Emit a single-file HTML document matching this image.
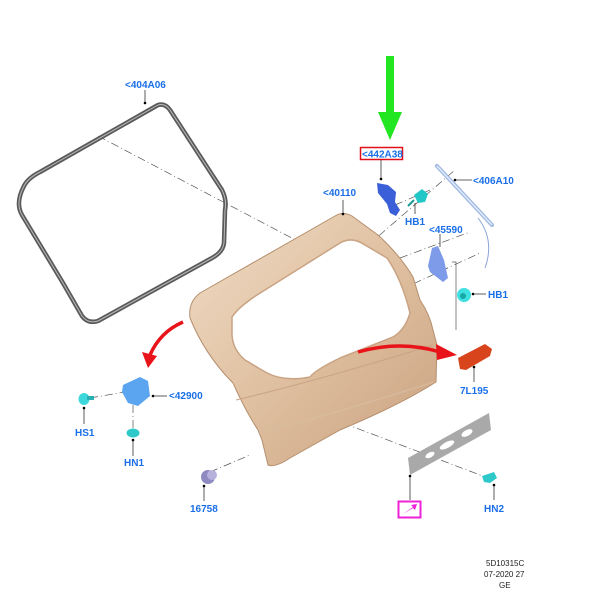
<!DOCTYPE html>
<html><head><meta charset="utf-8"><style>
html,body{margin:0;padding:0;background:#fff;width:610px;height:590px;overflow:hidden}
svg{display:block}
.l{font-family:"Liberation Sans",sans-serif;font-weight:bold;font-size:10px;fill:#1a6fe8}
.k{font-family:"Liberation Sans",sans-serif;font-size:8px;fill:#222}
</style></head><body>
<svg width="610" height="590" viewBox="0 0 610 590">
<defs>
<linearGradient id="tg" x1="0" y1="0" x2="1" y2="1">
<stop offset="0" stop-color="#f0dcc6"/><stop offset="0.5" stop-color="#dfc0a0"/><stop offset="1" stop-color="#c9a180"/>
</linearGradient>
</defs>
<g stroke="#555" stroke-width="0.7" stroke-dasharray="8,3,1,3" fill="none">
<line x1="98" y1="136" x2="305" y2="245"/>
<line x1="345" y1="265" x2="455" y2="170"/>
<line x1="395" y1="205" x2="430" y2="190"/>
<line x1="400" y1="258" x2="470" y2="232"/>
<line x1="400" y1="290" x2="480" y2="253"/>
<line x1="90" y1="398" x2="125" y2="392"/>
<line x1="133" y1="405" x2="133" y2="428"/>
<line x1="210" y1="472" x2="250" y2="455"/>
<line x1="343" y1="423" x2="488" y2="478"/>
</g>
<polyline points="452,262 456,262 456,330" stroke="#555" stroke-width="0.7" fill="none"/>
<path d="M158,105 Q165,103 170,110 L222,190 Q227,200 225,210 L224,243 Q223,252 212,258 L98,321 Q88,324 82,316 L63,283 L22,215 Q15,203 24,186 Q28,178 40,172 Z" fill="none" stroke="#5a5a5a" stroke-width="4.5" stroke-linejoin="round"/>
<path d="M158,105 Q165,103 170,110 L222,190 Q227,200 225,210 L224,243 Q223,252 212,258 L98,321 Q88,324 82,316 L63,283 L22,215 Q15,203 24,186 Q28,178 40,172 Z" fill="none" stroke="#bbb" stroke-width="1" stroke-linejoin="round"/>
<line x1="145" y1="90" x2="145" y2="103" stroke="#333" stroke-width="0.8"/><circle cx="145" cy="103" r="1.3" fill="#000"/>
<!-- tailgate -->
<path d="M200,293 L335,216 Q343,211 352,216 L378,235 Q400,255 413,277 L420,300 Q430,315 433,330 L437,345 L436,382 Q400,405 340,430 L290,458 Q275,468 268,465 L262,440 L258,430 Q245,410 233,383 Q205,355 190,318 Q188,302 200,293 Z" fill="url(#tg)" stroke="#b58f6e" stroke-width="1"/>
<path d="M232,317 Q240,305 265,290 L340,243 Q352,236 365,245 L387,258 Q402,280 410,313 Q405,330 393,337 L340,358 Q315,370 310,377 Q285,382 267,373 L245,360 Q233,350 232,335 Z" fill="#fff" stroke="#c9a383" stroke-width="1.5"/>
<path d="M236,400 Q320,380 433,345" stroke="#c9a383" fill="none" stroke-width="1"/>
<path d="M258,433 Q330,415 434,382" stroke="#d8bca0" fill="none" stroke-width="1"/>
<line x1="343" y1="200" x2="343" y2="214" stroke="#333" stroke-width="0.8"/><circle cx="343" cy="214" r="1.3" fill="#000"/>
<path d="M386,56 L394,56 L394,112 L402,112 L390,140 L378,112 L386,112 Z" fill="#22e622"/>
<rect x="360.5" y="147.5" width="42" height="12" fill="#fff" stroke="#e0101a" stroke-width="1.5"/>
<text class="l" x="362" y="157.5">&lt;442A38</text>
<line x1="381" y1="160" x2="381" y2="180" stroke="#333" stroke-width="0.8"/><circle cx="381" cy="179" r="1.3" fill="#000"/>
<path d="M377,183 L388,185 L396,192 L395,202 L400,210 L396,216 L390,213 L387,204 L378,193 Z" fill="#3a5fd8"/>
<path d="M414,195 L422,189 L428,194 L425,202 L418,203 Z" fill="#22c7c7"/><line x1="414" y1="200" x2="408" y2="206" stroke="#1a9a9a" stroke-width="2"/>
<line x1="415" y1="203" x2="415" y2="214" stroke="#333" stroke-width="0.8"/>
<line x1="437" y1="166" x2="492" y2="225" stroke="#a0b8e0" stroke-width="4" stroke-linecap="round"/>
<line x1="437" y1="166" x2="492" y2="225" stroke="#e0ecff" stroke-width="1.5"/>
<path d="M478,218 Q495,240 485,268" stroke="#8aa4d8" fill="none" stroke-width="1"/>
<line x1="455" y1="180" x2="472" y2="180" stroke="#333" stroke-width="0.8"/><circle cx="455" cy="180" r="1.3" fill="#000"/>
<path d="M432,248 L438,246 L444,260 L448,278 L443,282 L430,272 L428,266 Z" fill="#7d9be8"/>
<line x1="440" y1="234" x2="440" y2="247" stroke="#333" stroke-width="0.8"/>
<circle cx="464" cy="295" r="7" fill="#3fe0e0"/><circle cx="463" cy="296" r="3" fill="#18a8a8"/>
<line x1="473" y1="294" x2="486" y2="294" stroke="#333" stroke-width="0.8"/><circle cx="473" cy="294" r="1.3" fill="#000"/>
<path d="M183,322 Q160,332 150,355" stroke="#e8141a" stroke-width="3.5" fill="none"/>
<path d="M142,352 L148,368 L157,356 Z" fill="#e8141a"/>
<path d="M358,352 Q400,340 440,352" stroke="#e8141a" stroke-width="3.5" fill="none"/>
<path d="M436,344 L457,355 L437,360 Z" fill="#e8141a"/>
<path d="M458,358 L485,344 L492,349 L490,356 L466,370 L460,369 Z" fill="#d8441c"/>
<line x1="474" y1="367" x2="474" y2="382" stroke="#333" stroke-width="0.8"/><circle cx="474" cy="367" r="1.3" fill="#000"/>
<path d="M123,385 L140,377 L148,381 L150,396 L138,406 L128,403 L122,392 Z" fill="#5aa4f0"/>
<line x1="153" y1="396" x2="167" y2="396" stroke="#333" stroke-width="0.8"/><circle cx="153" cy="396" r="1.3" fill="#000"/>
<ellipse cx="84" cy="399" rx="5.5" ry="6" fill="#3ed8dc"/><rect x="87" y="396" width="7" height="4" fill="#2ab0b4"/>
<line x1="84" y1="407" x2="84" y2="424" stroke="#333" stroke-width="0.8"/><circle cx="84" cy="408" r="1.3" fill="#000"/>
<ellipse cx="133" cy="433" rx="6.5" ry="4.5" fill="#2ec8c8"/>
<line x1="133" y1="439" x2="133" y2="456" stroke="#333" stroke-width="0.8"/><circle cx="133" cy="440" r="1.3" fill="#000"/>
<ellipse cx="208" cy="477" rx="7" ry="7" fill="#8f8ac0"/><ellipse cx="212" cy="475" rx="5" ry="5" fill="#b6b2dc"/>
<line x1="204" y1="486" x2="204" y2="501" stroke="#333" stroke-width="0.8"/><circle cx="204" cy="486" r="1.3" fill="#000"/>
<path d="M408,458 L489,413 L491,430 L410,475 Z" fill="#a9a9a9"/>
<ellipse cx="430" cy="455" rx="5" ry="2.5" fill="#fff" transform="rotate(-28 430 455)"/>
<ellipse cx="447" cy="445" rx="8" ry="3" fill="#fff" transform="rotate(-28 447 445)"/>
<ellipse cx="467" cy="433" rx="6" ry="3" fill="#fff" transform="rotate(-28 467 433)"/>
<line x1="410" y1="476" x2="410" y2="500" stroke="#333" stroke-width="0.8"/><circle cx="410" cy="476" r="1.3" fill="#000"/>
<rect x="398.5" y="501.5" width="22" height="16" fill="#fff" stroke="#ee22d8" stroke-width="2"/>
<path d="M403,514 L413,507 L411,505 L417,504 L415,510 L413,508 Z" fill="#ee22d8"/>
<path d="M482,476 L494,472 L497,478 L490,483 L484,482 Z" fill="#2ec8c8"/>
<line x1="494" y1="484" x2="494" y2="500" stroke="#333" stroke-width="0.8"/><circle cx="494" cy="485" r="1.3" fill="#000"/>
<text class="l" x="125" y="88">&lt;404A06</text>
<text class="l" x="473" y="184">&lt;406A10</text>
<text class="l" x="323" y="196">&lt;40110</text>
<text class="l" x="405" y="225">HB1</text>
<text class="l" x="429" y="233">&lt;45590</text>
<text class="l" x="488" y="298">HB1</text>
<text class="l" x="169" y="399">&lt;42900</text>
<text class="l" x="460" y="394">7L195</text>
<text class="l" x="75" y="436">HS1</text>
<text class="l" x="124" y="466">HN1</text>
<text class="l" x="190" y="512">16758</text>
<text class="l" x="484" y="512">HN2</text>
<text class="k" x="486" y="566">5D10315C</text>
<text class="k" x="484" y="577">07-2020 27</text>
<text class="k" x="499" y="588">GE</text>
</svg>
</body></html>
